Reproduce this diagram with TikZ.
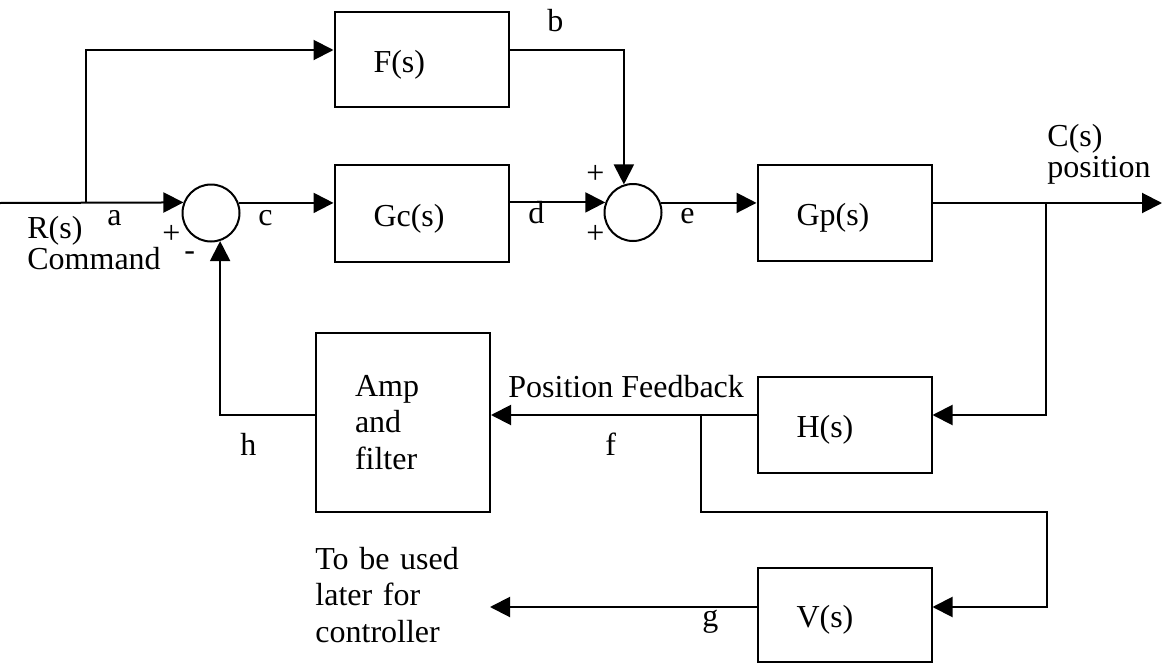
\documentclass[tikz,border=0pt]{standalone}
\usepackage{fontspec}
\setmainfont{Liberation Serif}
\usetikzlibrary{arrows.meta,calc}
\begin{document}
\begin{tikzpicture}[x=0.5pt,y=-0.5pt,
  every node/.style={font=\fontsize{16pt}{18.25pt}\selectfont},
  blk/.style={draw,line width=1pt,inner xsep=19.5pt,inner ysep=0pt,text width=48pt,align=left,minimum width=87pt},
  blk1/.style={blk,text height=16pt},
  sum/.style={draw,line width=1pt,circle,minimum size=28.5pt,inner sep=0pt},
  lbl/.style={inner sep=0pt,anchor=base west},
  mlbl/.style={lbl,align=left,text width=80pt},
  wire/.style={line width=1pt},
  arr/.style={wire,-{Triangle[length=10pt,width=10pt]}}
]
\useasboundingbox (0,0) rectangle (1163,664);

% blocks
\node[blk1,minimum height=47.5pt] (F) at (421.5,59.5) {F(s)};
\node[blk1,minimum height=48.5pt] (Gc) at (421.5,213.5) {Gc(s)};
\node[blk1,minimum height=48pt] (Gp) at (844.5,213) {Gp(s)};
\node[blk1,minimum height=48pt] (H) at (844.5,425) {H(s)};
\node[blk1,minimum height=47pt] (V) at (844.5,615) {V(s)};
\node[blk,minimum height=89.5pt] (Amp) at (403,422.5) {Amp\\and\\filter};

% summing junctions
\node[sum] (S1) at (211,213) {};
\node[sum] (S2) at (633,212.5) {};

% connector points
\coordinate (Rin) at (0,203);
\coordinate (Bin) at (86,203);
\coordinate (Cout) at (1162,203);
\coordinate (Bout) at (1046,203);
\coordinate (Bf) at (701,415);
\coordinate (Kv) at (1047,512);
\coordinate (Gout) at (490,607);

% connectors
\draw[arr] (Rin) -- (S1.159.5);
\draw[arr] (Bin) |- ($(F.west)+(0,-9.5)$);
\draw[arr] (S1.20.5) -- (Gc.west |- S1.20.5);
\draw[arr] ($(F.east)+(0,-9.5)$) -| (S2.108.4);
\draw[arr] (Gc.east |- S2.160.5) -- (S2.160.5);
\draw[arr] (S2.19.5) -- (Gp.west |- S2.19.5);
\draw[arr] (Gp.east |- Cout) -- (Cout);
\draw[arr] (Bout) |- (H.east |- Bf);
\draw[arr] (H.west |- Bf) -- (Amp.east |- Bf);
\draw[arr] (Bf) |- (Kv) |- (V.east |- Gout);
\draw[arr] (V.west |- Gout) -- (Gout);
\draw[arr] (Amp.west |- Bf) -| (S1.288.4);

% labels
\node[mlbl] (Rlab) at (27,238) {R(s)\\[-2.75pt]Command};
\node[lbl] (la) at (107,225) {a};
\node[lbl] (lb) at (547,32) {b};
\node[lbl] (lc) at (258,225) {c};
\node[lbl] (ld) at (528,223) {d};
\node[lbl] (le) at (680,223) {e};
\node[lbl] (lf) at (605,455) {f};
\node[lbl] (lg) at (702,626) {g};
\node[lbl] (lh) at (240,455) {h};
\node[lbl] (p1) at (162,243) {+};
\node[lbl] (m1) at (184,260) {-};
\node[lbl] (p2) at (586,183) {+};
\node[lbl] (p3) at (586,243) {+};
\node[mlbl] (Clab) at (1047,146.5) {C(s)\\[-3pt]position};
\node[lbl] (PF) at (508,397) {Position Feedback};
\node[mlbl] (TB) at (315,569) {To be used\\later for\\controller};
\end{tikzpicture}
\end{document}
